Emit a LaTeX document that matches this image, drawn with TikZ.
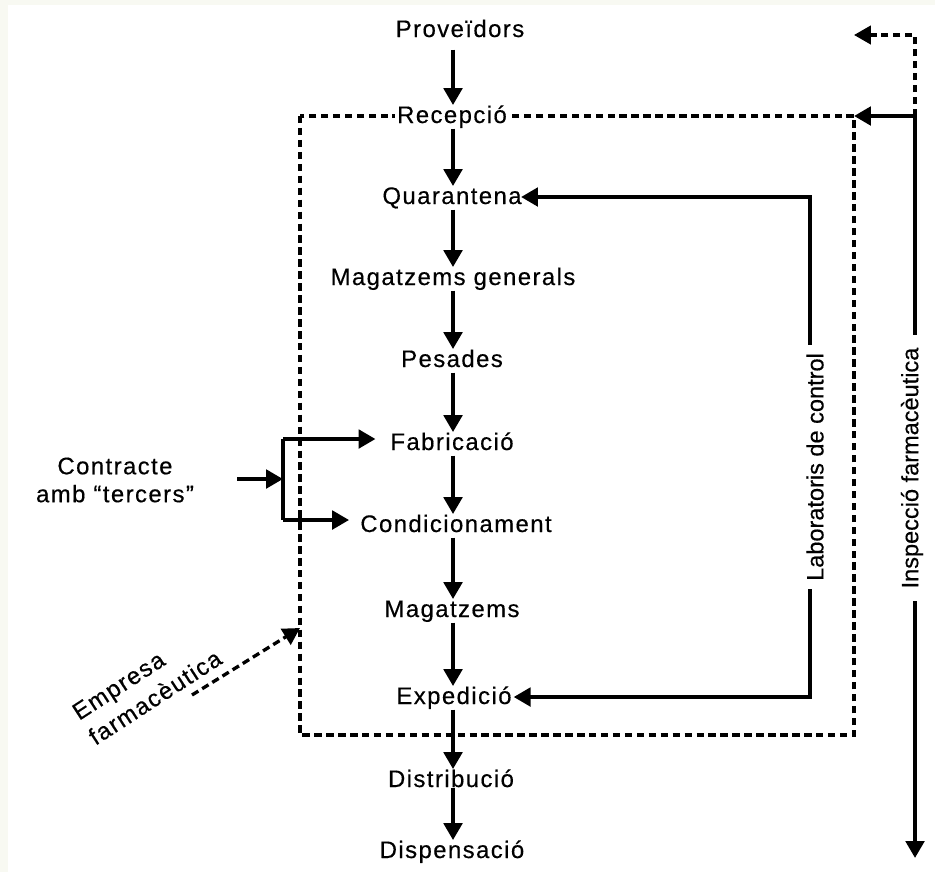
\documentclass[tikz,border=0pt]{standalone}
\usepackage{fontspec}
\setmainfont{Liberation Sans}
\newfontfamily\trk[LetterSpace=6,FakeBold=0.4]{Liberation Sans}
\newfontfamily\vrt[FakeBold=0.4]{Liberation Sans}
\usetikzlibrary{arrows.meta}
\definecolor{bgc}{RGB}{248,249,242}
\begin{document}
\begin{tikzpicture}[x=0.02cm,y=-0.02cm,
  lbl/.style={font=\trk\fontsize{13.6}{16}\selectfont, inner xsep=1pt, inner ysep=0pt, text height=10pt, text depth=2.95pt, anchor=base},
  mlbl/.style={font=\trk\fontsize{13.6}{15.9}\selectfont, align=center, inner sep=0pt},
  vlbl/.style={font=\vrt\fontsize{13.4}{16}\selectfont, rotate=90, inner ysep=0pt},
  ln/.style={line width=2.3pt},
  arr/.style={line width=2.3pt, -{Triangle[length=9.6pt,width=10.4pt]}},
  dsh/.style={line width=1.9pt, dash pattern=on 4.25pt off 2.55pt},
  darr/.style={dsh, -{Triangle[length=9.6pt,width=10.4pt]}}
]
\useasboundingbox (0,0) rectangle (935,872);
\fill[bgc] (0,0) rectangle (935,872);
\fill[white] (8,5) rectangle (935,872);

% dashed company box
\coordinate (bTL) at (300,116);
\coordinate (bTR) at (854,116);
\coordinate (bBR) at (854,735);
\draw[dsh] (bTL) rectangle (bBR);

% main column
\coordinate (col) at (453,0);
\node[lbl] (prov) at (460,37) {Proveïdors};
\node[lbl, fill=white] (rec) at (452,123) {Recepció};
\node[lbl] (quar) at (452,204) {Quarantena};
\node[lbl] (mg) at (453,285) {Magatzems generals};
\node[lbl] (pes) at (452,367) {Pesades};
\node[lbl] (fab) at (452,450) {Fabricació};
\node[lbl] (cond) at (456,532) {Condicionament};
\node[lbl] (mag) at (452,617) {Magatzems};
\node[lbl] (exp) at (454,704) {Expedició};
\node[lbl] (dist) at (451,787) {Distribució};
\node[lbl] (disp) at (452,858) {Dispensació};

\draw[arr, shorten <=4pt] (prov.south -| col) -- (rec.north -| col);
\draw[arr] (rec.south -| col) -- (quar.north -| col);
\draw[arr] (quar.south -| col) -- (mg.north -| col);
\draw[arr] (mg.south -| col) -- (pes.north -| col);
\draw[arr] (pes.south -| col) -- (fab.north -| col);
\draw[arr] (fab.south -| col) -- (cond.north -| col);
\draw[arr] (cond.south -| col) -- (mag.north -| col);
\draw[arr] (mag.south -| col) -- (exp.north -| col);
\draw[arr] (exp.south -| col) -- (dist.north -| col);
\draw[arr, shorten <=-2.8pt] (dist.south -| col) -- (disp.north -| col);

% laboratoris de control
\node[vlbl, inner xsep=4.5pt] (lab) at (815,467) {Laboratoris de control};
\coordinate (labT) at (810,197);
\coordinate (labB) at (810,697);
\draw[arr, shorten >=-1.5pt] (lab.east -| labT) -- (labT) -- (labT -| quar.east);
\draw[arr] (lab.west -| labB) -- (labB) -- (labB -| exp.east);

% inspeccio farmaceutica
\node[vlbl, inner xsep=7pt] (insp) at (912,468) {Inspecció farmacèutica};
\coordinate (iT) at (915,116);
\coordinate (iB) at (915,858);
\coordinate (dT) at (915,35);
\coordinate (dTip) at (854,35);
\draw[ln] (insp.east -| iT) -- (iT);
\draw[arr] (insp.west -| iB) -- (iB);
\draw[arr] (iT) -- (bTR);
\draw[darr] (iT) -- (dT) -- (dTip);

% contracte amb tercers
\node[mlbl] (contr) at (115,480) {Contracte\\amb “tercers”};
\coordinate (cin) at (237,479);
\coordinate (cbr) at (283,479);
\coordinate (brT) at (283,439);
\coordinate (brB) at (283,520);
\draw[arr] (cin) -- (cbr);
\draw[ln] (brT) -- (brB);
\draw[arr, shorten >=7.3pt] (brT) -- (brT -| fab.west);
\draw[arr, shorten >=5.2pt] (brB) -- (brB -| cond.west);

% empresa farmaceutica
\node[font=\trk\fontsize{13.6}{17}\selectfont, align=left, rotate=33, inner sep=0pt] (emp) at (147,685) {Empresa\\farmacèutica};
\coordinate (eS) at (192,695);
\coordinate (eT) at (300,628);
\draw[darr] (eS) -- (eT);
\end{tikzpicture}
\end{document}
